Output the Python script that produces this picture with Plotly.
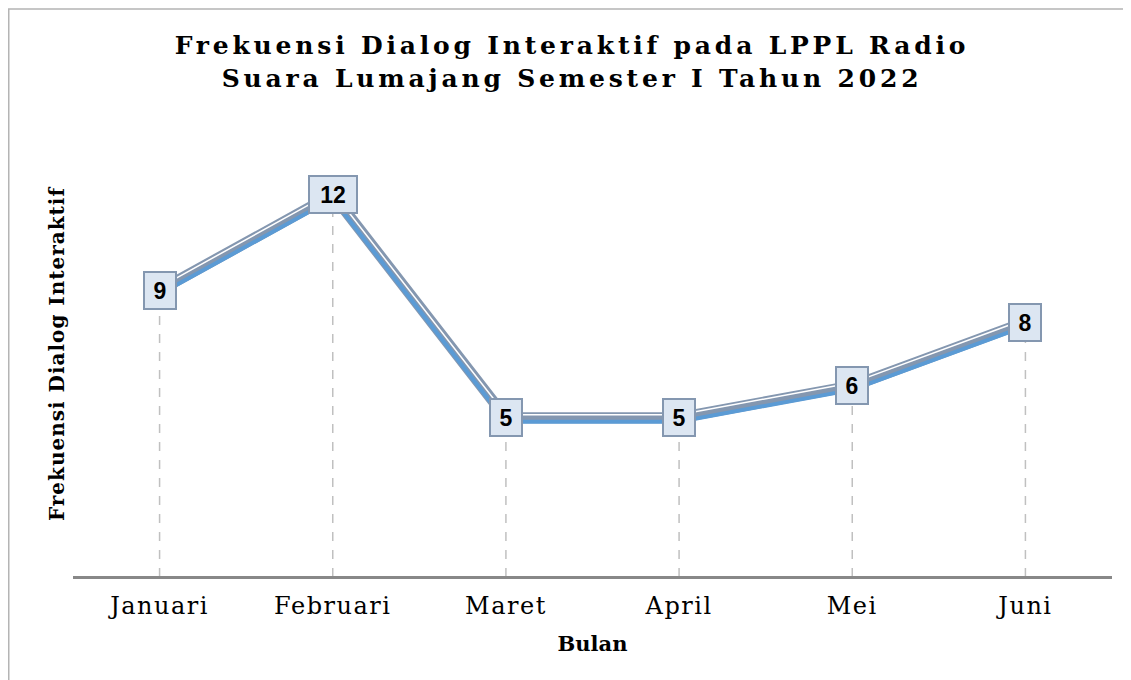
import plotly.graph_objects as go

months = ["Januari", "Februari", "Maret", "April", "Mei", "Juni"]
values = [9, 12, 5, 5, 6, 8]
title_lines = ["Frekuensi Dialog Interaktif pada LPPL Radio", "Suara Lumajang Semester I Tahun 2022"]
x_title = "Bulan"
y_title = "Frekuensi Dialog Interaktif"

W, H = 1131, 680
L, R, T, B = 65, 27, 123, 111
YMAX = 14
px = YMAX / (H - T - B)  # data units per pixel

SERIF = "DejaVu Serif"
SANS = "Liberation Sans"
GRAY = "#8497b0"
BLUE = "#5b9bd5"

fig = go.Figure()

# main gray band
fig.add_trace(go.Scatter(x=months, y=values, mode="lines", yaxis="y",
                         line=dict(color=GRAY, width=11), hoverinfo="skip", showlegend=False))
# white highlight (shifted up)
fig.add_trace(go.Scatter(x=months, y=values, mode="lines", yaxis="y2",
                         line=dict(color="white", width=1.5), hoverinfo="skip", showlegend=False))
# blue line (shifted down)
fig.add_trace(go.Scatter(x=months, y=values, mode="lines", yaxis="y3",
                         line=dict(color=BLUE, width=4), hoverinfo="skip", showlegend=False))

shapes = []
# drop lines
for m, v in zip(months, values):
    shapes.append(dict(type="line", xref="x", yref="y", x0=m, x1=m, y0=0, y1=v,
                       line=dict(color="#c0c0c0", width=1.5, dash="dash"), layer="below"))
# outer border
shapes.append(dict(type="rect", xref="paper", yref="paper",
                   x0=(0.75 - L) / (W - L - R), x1=1.2,
                   y0=-0.5, y1=(H - B - 1) / (H - T - B),
                   line=dict(color="#b4b4b4", width=1.5), layer="below"))

annotations = []
for m, v in zip(months, values):
    s = str(v)
    annotations.append(dict(x=m, y=v, xref="x", yref="y", text="<b>%s</b>" % s,
                            showarrow=False, xanchor="center", yanchor="middle",
                            font=dict(family=SANS, size=23, color="black"),
                            bgcolor="#dce6f2", bordercolor=GRAY, borderwidth=2,
                            borderpad=2, width=10 + 16 * len(s), height=31))

fig.update_layout(
    width=W, height=H,
    margin=dict(l=L, r=R, t=T, b=B),
    paper_bgcolor="white", plot_bgcolor="white",
    title=dict(text="<b>" + "<br>".join(title_lines) + "</b>",
               font=dict(family=SERIF, size=25, color="black"),
               x=564 / W, xref="container", xanchor="center",
               y=1 - 46 / H, yref="container", yanchor="top"),
    xaxis=dict(showgrid=False, zeroline=False, showline=False, ticks="",
               range=[-0.5, 5.5], ticklabelstandoff=12,
               tickfont=dict(family=SERIF, size=24, color="black"),
               title=dict(text="<b>" + x_title + "</b>", font=dict(family=SERIF, size=21, color="black"),
                          standoff=17)),
    yaxis=dict(range=[0, YMAX], showgrid=False, zeroline=True, zerolinecolor="#888888",
               zerolinewidth=3, showticklabels=False, showline=False,
               title=dict(text="<b>" + y_title + "</b>", font=dict(family=SERIF, size=20, color="black"),
                          standoff=2)),
    yaxis2=dict(range=[0 - 3 * px, YMAX - 3 * px], overlaying="y", visible=False),
    yaxis3=dict(range=[0 + 4 * px, YMAX + 4 * px], overlaying="y", visible=False),
    shapes=shapes, annotations=annotations,
)

post = """
var t=document.querySelector('.gtitle'); if(t){t.style.letterSpacing='3.8px';}
var yt=document.querySelector('.ytitle'); if(yt){yt.style.letterSpacing='1px';}
document.querySelectorAll('.xtick text').forEach(function(e){e.style.letterSpacing='1.5px';});
"""
fig.write_html("out.html", post_script=post)
